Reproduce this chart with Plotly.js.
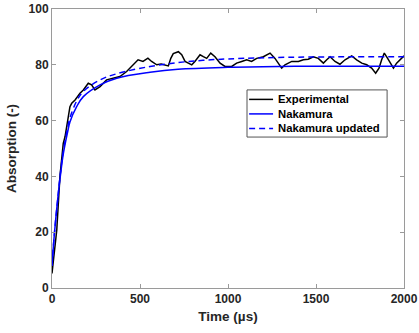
<!DOCTYPE html>
<html>
<head>
<meta charset="utf-8">
<script src="https://cdn.plot.ly/plotly-3.0.1.min.js"></script>
<style>html,body{margin:0;padding:0;background:#fff;}#chart{width:419px;height:333px;}</style>
</head>
<body>
<div id="chart"></div>
<script>
// Experimental
const timeExp = [0,13,27,45,64,74,93,102,112,131,159,178,206,225,244,273,310,347,386,424,460,489,517,545,566,595,620,642,661,675,689,718,737,756,775,794,812,841,860,879,902,926,955,983,1021,1049,1078,1106,1134,1163,1201,1239,1267,1286,1305,1324,1362,1400,1428,1456,1485,1513,1542,1561,1580,1608,1636,1665,1703,1731,1760,1788,1816,1839,1858,1873,1888,1907,1926,1940,1958,1983,2000];
const absExp  = [5.2,12,20.7,39.9,51.8,54.2,61.4,65,66.2,67.4,69.8,71,73.4,72.8,71,72.2,74.6,75.2,75.8,77.6,80,81.8,81.2,82.4,81.2,80,80.3,80,79.6,82.3,84.0,84.7,83.6,81.2,80.6,80,81.2,83.6,82.9,82.3,84.2,82.9,80.6,79.4,79.4,80.6,81.2,81.8,81.2,82.3,82.9,84.2,82.3,80.6,78.8,80,81.2,81.2,81.8,82,82.9,82.3,80.6,81.8,82.9,81.2,80.2,81.8,83.2,81.8,80.6,80,78.8,77,78.8,81.8,84.2,82.3,80,78.8,80.6,82.3,83.2];
// Nakamura model
const timeNak = [0,13,36,51,64,89,102,140,178,273,368,557,716,1000,1295,1600,2000];
const absNak  = [8,19,34,42,48,56,59.5,65,68.6,72.8,75.2,77.3,78.4,79.1,79.4,79.5,79.5];
// Nakamura updated
const timeUpd = [0,13,36,51,64,89,102,140,178,273,368,557,716,858,1000,1352,2000];
const absUpd  = [8,19,34,43,49,57.5,61,67,70.5,74.6,76.8,79.4,80.8,81.6,82.1,82.7,82.9];

const seriesNames = ["Experimental","Nakamura","Nakamura updated"];
const xTicks = [0,500,1000,1500,2000];
const yTicks = [0,20,40,60,80,100];

const FONT = "Liberation Sans, Arial, Helvetica, sans-serif";
const colors = ["#000000", "#0000ff", "#0000ff"];
const dashes = ["solid", "solid", "6px,4px"];

const traces = [
  {x: timeExp, y: absExp, name: seriesNames[0], mode: "lines", line: {color: colors[0], width: 1.5}},
  {x: timeNak, y: absNak, name: seriesNames[1], mode: "lines", line: {color: colors[1], width: 1.5, shape: "spline", smoothing: 1}},
  {x: timeUpd, y: absUpd, name: seriesNames[2], mode: "lines", line: {color: colors[2], width: 1.5, dash: dashes[2], shape: "spline", smoothing: 1}}
];

// Compact legend (MATLAB style) built from shapes + annotations in paper coords
const leg = {x0: 0.554, x1: 0.952, y0: 0.541, y1: 0.710, rows: [0.676, 0.624, 0.572], lx0: 0.560, lx1: 0.628, tx: 0.636};
const shapes = [{type: "rect", xref: "paper", yref: "paper", x0: leg.x0, x1: leg.x1, y0: leg.y0, y1: leg.y1,
  fillcolor: "#ffffff", line: {color: "#555555", width: 1}, layer: "above"}];
const annotations = [];
seriesNames.forEach((n, i) => {
  shapes.push({type: "line", xref: "paper", yref: "paper", x0: leg.lx0, x1: leg.lx1, y0: leg.rows[i], y1: leg.rows[i],
    line: {color: colors[i], width: 1.5, dash: dashes[i] === "solid" ? "solid" : "6px,4px"}, layer: "above"});
  annotations.push({xref: "paper", yref: "paper", x: leg.tx, y: leg.rows[i], xanchor: "left", yanchor: "middle",
    text: n, showarrow: false, font: {family: FONT, size: 11.3, color: "#000000", weight: "bold"}});
});

const axisCommon = {
  showgrid: false, zeroline: false, showline: true, mirror: "allticks",
  linecolor: "#9a9a9a", linewidth: 1,
  ticks: "inside", ticklen: 4, tickcolor: "#9a9a9a", tickwidth: 1,
  tickfont: {family: FONT, size: 12, color: "#262626", weight: "bold"}
};

const layout = {
  width: 419, height: 333,
  margin: {l: 52, r: 15, t: 9, b: 45},
  paper_bgcolor: "#ffffff", plot_bgcolor: "#ffffff",
  showlegend: false,
  xaxis: Object.assign({}, axisCommon, {
    range: [0, 2000], tickvals: xTicks, ticktext: xTicks.map(String),
    title: {text: "Time (µs)", font: {family: FONT, size: 13.5, color: "#262626", weight: "bold"}, standoff: 6}
  }),
  yaxis: Object.assign({}, axisCommon, {
    range: [0, 100], tickvals: yTicks, ticktext: yTicks.map(String),
    title: {text: "Absorption (-)", font: {family: FONT, size: 13.5, color: "#262626", weight: "bold"}, standoff: 8}
  }),
  shapes: shapes,
  annotations: annotations
};

Plotly.newPlot("chart", traces, layout, {staticPlot: true, displayModeBar: false});
</script>
</body>
</html>
